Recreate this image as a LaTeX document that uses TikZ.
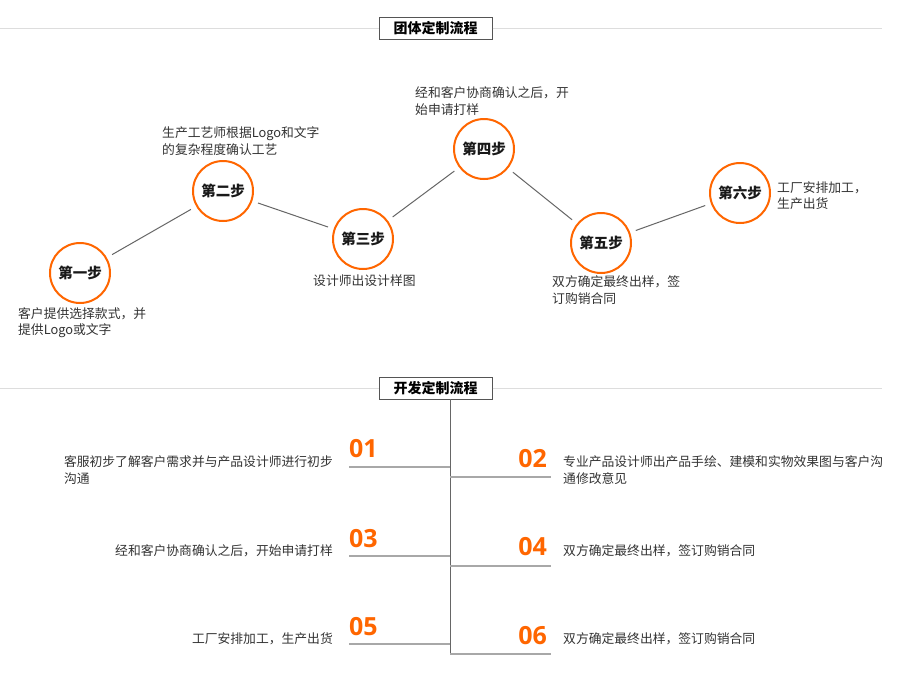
\documentclass[tikz,border=0pt]{standalone}
\usepackage{fontspec}
\setmainfont{Noto Sans CJK SC}
\newfontfamily\numfont{Open Sans}
\definecolor{orng}{HTML}{FF6600}
\definecolor{txt}{HTML}{333333}
\definecolor{rule}{HTML}{DDDDDD}
\definecolor{boxline}{HTML}{555555}
\definecolor{conn}{HTML}{666666}
\definecolor{uline}{HTML}{A8A8A8}
\tikzset{
  titlebox/.style={draw=boxline, line width=1pt, fill=white, minimum width=113pt, minimum height=22pt, inner sep=0pt, font=\fontsize{14}{16}\selectfont\bfseries, text=black},
  stepcircle/.style={circle, draw=orng, line width=2pt, fill=white, minimum size=60pt, inner sep=0pt, font=\fontsize{14.5}{16}\selectfont\bfseries, text=black!90},
  body/.style={inner sep=0pt, font=\fontsize{12.8}{16.3}\selectfont, text=txt, align=left},
  num/.style={inner sep=0pt, font=\numfont\bfseries\fontsize{25}{28}\selectfont, text=orng},
  stepline/.style={draw=conn, line width=1pt, shorten <=6pt, shorten >=6pt},
  graylink/.style={draw=rule, line width=1pt},
  spine/.style={draw=conn, line width=1pt},
  underl/.style={draw=uline, line width=1.5pt}
}
\begin{document}
\begin{tikzpicture}[x=1pt,y=-1pt]
\path[use as bounding box, fill=white] (0,0) rectangle (900,673);

% ---- section 1 ----
\coordinate (r1l) at (0,28);
\coordinate (r1r) at (882,28);
\node[titlebox] (t1) at (435.5,28) {团体定制流程};
\draw[graylink] (r1l) -- (t1.west);
\draw[graylink] (t1.east) -- (r1r);

\node[stepcircle] (s1) at (80,273) {第一步};
\node[stepcircle] (s2) at (223,191) {第二步};
\node[stepcircle] (s3) at (363,239) {第三步};
\node[stepcircle] (s4) at (484,149) {第四步};
\node[stepcircle] (s5) at (601,243) {第五步};
\node[stepcircle] (s6) at (740,193) {第六步};

\draw[stepline] (s1) -- (s2);
\draw[stepline] (s2) -- (s3);
\draw[stepline] (s3) -- (s4);
\draw[stepline] (s4) -- (s5);
\draw[stepline] (s5) -- (s6);

\node[body, anchor=west] (d1) at (18,322.5) {客户提供选择款式，并\\提供Logo或文字};
\node[body, anchor=west] (d2) at (162,141) {生产工艺师根据Logo和文字\\的复杂程度确认工艺};
\node[body, anchor=west] (d3) at (313,281) {设计师出设计样图};
\node[body, anchor=west] (d4) at (415,101) {经和客户协商确认之后，开\\始申请打样};
\node[body, anchor=west] (d5) at (552,290) {双方确定最终出样，签\\订购销合同};
\node[body, anchor=west] (d6) at (777,196) {工厂安排加工，\\生产出货};

% ---- section 2 ----
\coordinate (r2l) at (0,388);
\coordinate (r2r) at (882,388);
\node[titlebox] (t2) at (435.5,388) {开发定制流程};
\draw[graylink] (r2l) -- (t2.west);
\draw[graylink] (t2.east) -- (r2r);

\coordinate (spT) at (450,399);
\coordinate (spB) at (450,654);
\draw[spine] (spT) -- (spB);

\coordinate (a1) at (349,467); \coordinate (b1) at (450,467);
\coordinate (a3) at (349,556); \coordinate (b3) at (450,556);
\coordinate (a5) at (349,644); \coordinate (b5) at (450,644);
\coordinate (a2) at (450,477); \coordinate (b2) at (551,477);
\coordinate (a4) at (450,566); \coordinate (b4) at (551,566);
\coordinate (a6) at (450,654); \coordinate (b6) at (551,654);
\draw[underl] (a1) -- (b1);
\draw[underl] (a3) -- (b3);
\draw[underl] (a5) -- (b5);
\draw[underl] (a2) -- (b2);
\draw[underl] (a4) -- (b4);
\draw[underl] (a6) -- (b6);

\node[num, anchor=west] (n1) at (349,449) {01};
\node[num, anchor=east] (n2) at (547,459) {02};
\node[num, anchor=west] (n3) at (349,539) {03};
\node[num, anchor=east] (n4) at (547,547) {04};
\node[num, anchor=west] (n5) at (349,627) {05};
\node[num, anchor=east] (n6) at (547,636) {06};

\node[body, anchor=east] (e1) at (333,470) {客服初步了解客户需求并与产品设计师进行初步\\沟通};
\node[body, anchor=east] (e3) at (333,551) {经和客户协商确认之后，开始申请打样};
\node[body, anchor=east] (e5) at (333,639) {工厂安排加工，生产出货};
\node[body, anchor=west] (e2) at (563,470) {专业产品设计师出产品手绘、建模和实物效果图与客户沟\\通修改意见};
\node[body, anchor=west] (e4) at (563,551) {双方确定最终出样，签订购销合同};
\node[body, anchor=west] (e6) at (563,639) {双方确定最终出样，签订购销合同};
\end{tikzpicture}
\end{document}
